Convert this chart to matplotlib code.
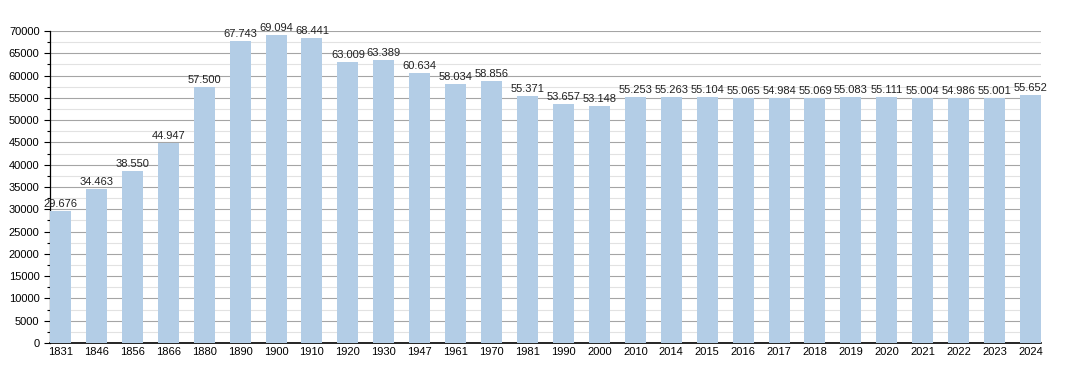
import matplotlib.pyplot as plt
from matplotlib.ticker import MultipleLocator

plt.rcParams['font.family'] = ['Liberation Sans', 'DejaVu Sans']

years = ["1831", "1846", "1856", "1866", "1880", "1890", "1900", "1910", "1920", "1930",
         "1947", "1961", "1970", "1981", "1990", "2000", "2010", "2014", "2015", "2016",
         "2017", "2018", "2019", "2020", "2021", "2022", "2023", "2024"]
population = [29676, 34463, 38550, 44947, 57500, 67743, 69094, 68441, 63009, 63389,
              60634, 58034, 58856, 55371, 53657, 53148, 55253, 55263, 55104, 55065,
              54984, 55069, 55083, 55111, 55004, 54986, 55001, 55652]

fig = plt.figure(figsize=(10.7, 3.73), dpi=100)
ax = fig.add_axes([50 / 1070, 30 / 373, 991 / 1070, 312 / 373])

x = range(len(years))
ax.bar(x, population, width=0.585, color="#b3cde6", zorder=3)

# labels use a dot as thousands separator
for xi, v in zip(x, population):
    label = f"{v:,}".replace(",", ".")
    ax.text(xi, v + 450, label, ha="center", va="bottom", fontsize=8, color="#222222", zorder=4)

ax.set_xlim(-0.29, len(years) - 0.71)
ax.set_ylim(0, 70000)
ax.set_xticks(list(x))
ax.set_xticklabels(years, fontsize=8)
ax.yaxis.set_major_locator(MultipleLocator(5000))
ax.yaxis.set_minor_locator(MultipleLocator(2500))
ax.tick_params(axis="y", labelsize=8, length=4, width=0.8)
ax.tick_params(axis="y", which="minor", length=2.5, width=0.8)
ax.tick_params(axis="x", length=0, pad=3)

ax.grid(axis="y", which="major", color="#a5a5a5", linewidth=0.8, zorder=0)
ax.grid(axis="y", which="minor", color="#e2e2e2", linewidth=0.8, zorder=0)

for s in ["top", "right"]:
    ax.spines[s].set_visible(False)
ax.spines["left"].set_linewidth(0.9)
ax.spines["bottom"].set_linewidth(1.2)

fig.savefig("out.png", dpi=100)
